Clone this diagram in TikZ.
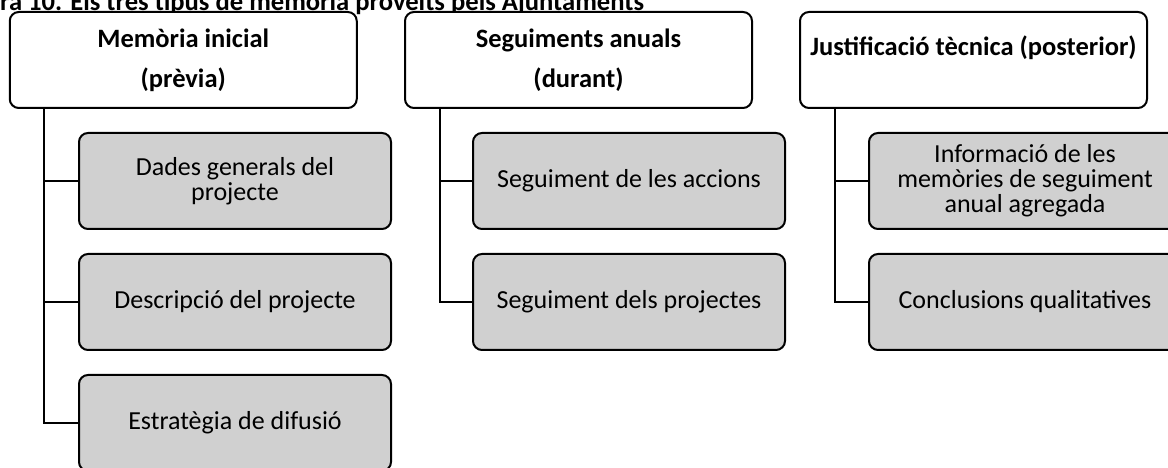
\documentclass[tikz,border=0pt]{standalone}
\usepackage{fontspec}
\setmainfont{Carlito}
\definecolor{boxgray}{RGB}{208,208,208}
\begin{document}
\begin{tikzpicture}[x=1pt,y=1pt,
  head/.style={draw, line width=2pt, rounded corners=9pt, fill=white,
    minimum width=347pt, minimum height=96pt, inner sep=0pt, align=center,
    font=\fontsize{26.5}{40}\selectfont\bfseries},
  item/.style={draw, line width=2pt, rounded corners=9pt, fill=boxgray,
    minimum width=312pt, minimum height=96pt, inner sep=0pt, align=center,
    font=\fontsize{26}{25}\selectfont},
  link/.style={line width=2pt}]
\useasboundingbox (0,0) rectangle (1168,468);
\clip (0,0) rectangle (1168,468);

% caption line, cut at the top edge
\node[anchor=base west, inner sep=0pt, font=\fontsize{26.6}{30}\selectfont\bfseries]
  (title) at (0,457.5) {ra 10. Els tres tipus de memòria proveïts pels Ajuntaments};

% the three kinds of report
\node[head] (h1) at (183.25,408) {Memòria inicial\\(prèvia)};
\node[head] (h2) at (578.5,408) {Seguiments anuals\\(durant)};
\node[head, text depth=29pt] (h3) at (973.5,408) {Justificació tècnica (posterior)};

% contents of each report
\node[item] (a1) at (235,287) {Dades generals del\\projecte};
\node[item] (a2) at (235,166) {Descripció del projecte};
\node[item] (a3) at (235,45)  {Estratègia de difusió};

\node[item] (b1) at (629,287) {Seguiment de les accions};
\node[item] (b2) at (629,166) {Seguiment dels projectes};

\node[item] (c1) at (1025,287) {Informació de les\\memòries de seguiment\\anual agregada};
\node[item] (c2) at (1025,166) {Conclusions qualitatives};

% tree connectors
\foreach \h/\c in {h1/a1,h1/a2,h1/a3,h2/b1,h2/b2,h3/c1,h3/c2}
  \draw[link] ([xshift=35.5pt]\h.south west) |- (\c.west);
\end{tikzpicture}
\end{document}
